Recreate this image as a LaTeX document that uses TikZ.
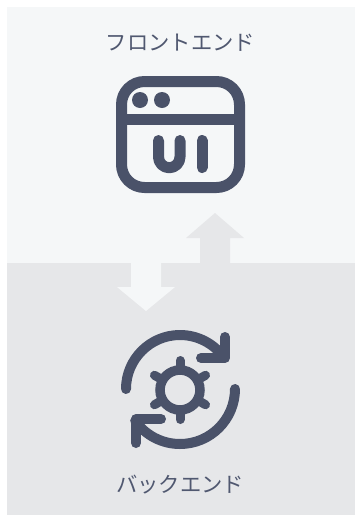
\documentclass[tikz,border=0pt]{standalone}
\usepackage{fontspec}
\newfontfamily\cjk{Noto Sans CJK JP}
\definecolor{topbg}{HTML}{F5F7F8}
\definecolor{botbg}{HTML}{E6E7E9}
\definecolor{ink}{HTML}{4A5269}
\definecolor{inktext}{HTML}{505870}
\tikzset{
  iconline/.style={draw=ink,line width=#1,line cap=round,line join=round},
  iconline/.default=10pt,
  label/.style={text=inktext,font=\cjk\fontsize{21.3pt}{21.3pt}\selectfont,inner sep=0pt},
}
\begin{document}
\begin{tikzpicture}[x=1pt,y=-1pt]
\useasboundingbox (0,0) rectangle (355,515);
\fill[white] (0,0) rectangle (355,515);
% panels
\fill[topbg] (7,7) rectangle (355,262.5);
\fill[botbg] (7,262.5) rectangle (355,515);
% block arrows
\fill[botbg] (215,213) -- (244,238) -- (230,238) -- (230,263) -- (200,263) -- (200,238) -- (186,238) -- cycle;
\fill[topbg] (146,311) -- (175,287) -- (161,287) -- (161,262) -- (131,262) -- (131,287) -- (117,287) -- cycle;
% labels
\node[label] (front) at (180.5,43) {フロントエンド};
\node[label] (back) at (180,484.5) {バックエンド};
% UI window icon
\draw[iconline=11pt,rounded corners=23pt] (121.5,81.5) rectangle (239.5,187.5);
\draw[draw=ink,line width=11pt] (121.5,119) -- (239.5,119);
\fill[ink] (140,100) circle (8);
\fill[ink] (162,100) circle (8);
\draw[iconline=11pt] (158.5,140.5) -- (158.5,157) arc[start angle=180,end angle=0,radius=10.75] -- (180,140.5);
\draw[iconline=11pt] (202,140.5) -- (202,167.5);
% gear
\draw[draw=ink,line width=9.5pt] (180,390) circle (20);
\foreach \a in {30,90,150,210,270,330}
  \draw[iconline=9pt] (180,390) ++(\a:20) -- ++(\a:9.5);
% rotate arrows
\draw[iconline] (126,389) arc[start angle=180,end angle=324.6,radius=54];
\draw[iconline] (225,337) -- (225,358) -- (201,358);
\draw[iconline] (235,389) arc[start angle=0,end angle=144.6,radius=55];
\draw[iconline] (136,443) -- (136,419) -- (161,419);
\end{tikzpicture}
\end{document}
